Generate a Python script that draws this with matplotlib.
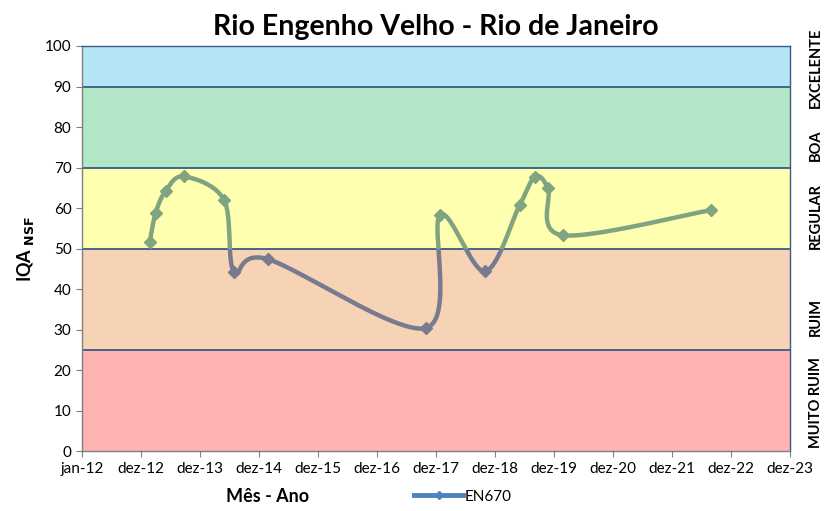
import numpy as np
import matplotlib
matplotlib.use("Agg")
import matplotlib.pyplot as plt
from matplotlib.patches import Rectangle
from matplotlib.lines import Line2D

# ─── data ────────────────────────────────────────────────────────────────────
# x in years since jan-12 (axis ticks every year-ish), y = IQA NSF
x_pts = [1.15, 1.25, 1.42, 1.73, 2.41, 2.58, 3.15, 5.83, 6.07, 6.83, 7.42, 7.68, 7.90, 8.15, 10.66]
y_pts = [51.6, 58.8, 64.2, 67.8, 62.0, 44.2, 47.4, 30.4, 58.3, 44.4, 60.7, 67.7, 64.9, 53.3, 59.5]

tick_labels = ["jan-12", "dez-12", "dez-13", "dez-14", "dez-15", "dez-16", "dez-17",
               "dez-18", "dez-19", "dez-20", "dez-21", "dez-22", "dez-23"]

band_edges  = [0, 25, 50, 70, 90, 100]
band_colors = ["#FFB3B3", "#F6D3B4", "#FFFFB0", "#B3E6C7", "#B3E5F7"]
band_names  = ["MUITO RUIM", "RUIM", "REGULAR", "BOA", "EXCELENTE"]
name_pos    = [12, 33, 58, 75.5, 94.5]   # where the class labels sit on the right

# line colour as it appears over each band (Excel draws a semi-transparent blue)
line_colors = {(0, 50): "#797A90", (50, 100): "#80A47F"}

FONT = "Lato"
EDGE = "#3B5A86"


def smooth(x, y, n=30, sx=59.0, sy=4.05):
    """Catmull-Rom through the points, computed in pixel-like space (Excel smoothing)."""
    P = np.column_stack([np.asarray(x) * sx, np.asarray(y) * sy])
    P = np.vstack([P[0], P, P[-1]])
    out = []
    for i in range(1, len(P) - 2):
        p0, p1, p2, p3 = P[i - 1], P[i], P[i + 1], P[i + 2]
        t = np.linspace(0, 1, n)[:, None]
        c1 = p1 + (p2 - p0) / 6
        c2 = p2 - (p3 - p1) / 6
        seg = ((1 - t) ** 3) * p1 + 3 * ((1 - t) ** 2) * t * c1 + 3 * (1 - t) * t ** 2 * c2 + t ** 3 * p2
        out.append(seg)
    S = np.vstack(out)
    return S[:, 0] / sx, S[:, 1] / sy


fig = plt.figure(figsize=(8.27, 5.11), dpi=100)
ax = fig.add_axes([0.099, 0.117, 0.856, 0.793])

for lo, hi, c in zip(band_edges[:-1], band_edges[1:], band_colors):
    ax.axhspan(lo, hi, color=c, lw=0, zorder=0)
for yv in band_edges[1:-1]:
    ax.axhline(yv, color=EDGE, lw=1.3, zorder=1)

sx, sy = smooth(x_pts, y_pts)
for (lo, hi), c in line_colors.items():
    ln, = ax.plot(sx, sy, color=c, lw=3.2, solid_capstyle="round", zorder=3)
    mk, = ax.plot(x_pts, y_pts, ls="none", marker="D", ms=6, color=c, zorder=4)
    clip = Rectangle((-1, lo), 20, hi - lo, transform=ax.transData)
    ln.set_clip_path(clip)
    mk.set_clip_path(clip)

ax.set_xlim(0, 12)
ax.set_ylim(0, 100)
ax.set_xticks(range(13))
ax.set_xticklabels(tick_labels)
ax.set_yticks(range(0, 101, 10))
ax.tick_params(direction="out", length=4, color="#7F7F7F", labelsize=11)
for lab in ax.get_xticklabels() + ax.get_yticklabels():
    lab.set_fontfamily(FONT)
for s in ax.spines.values():
    s.set_color(EDGE)
    s.set_linewidth(1.0)
ax.spines["left"].set_color("#7F7F7F")
ax.spines["bottom"].set_color("#7F7F7F")

ax.set_title("Rio Engenho Velho - Rio de Janeiro", fontsize=20.5, fontweight="bold",
             fontfamily=FONT, pad=8)
ax.set_ylabel(r"IQA $_{\mathbf{NSF}}$", fontsize=13, fontweight="bold", fontfamily=FONT,
              labelpad=6)
fig.text(0.324, 0.028, "Mês - Ano", fontsize=13, fontweight="bold", fontfamily=FONT,
         ha="center", va="center")

for yv, name in zip(name_pos, band_names):
    ax.text(1.037, yv, name, transform=ax.get_yaxis_transform(),
            rotation=90, ha="center", va="center", fontsize=10.5, fontweight="bold",
            fontfamily=FONT, clip_on=False)

handle = Line2D([], [], color="#4F81BD", lw=3.5, marker="D", ms=4)
fig.legend([handle], ["EN670"], loc="center", bbox_to_anchor=(0.56, 0.028),
           frameon=False, prop={"family": FONT, "size": 11}, handlelength=3.2,
           handletextpad=0.1)

fig.savefig("out.png", dpi=100)
